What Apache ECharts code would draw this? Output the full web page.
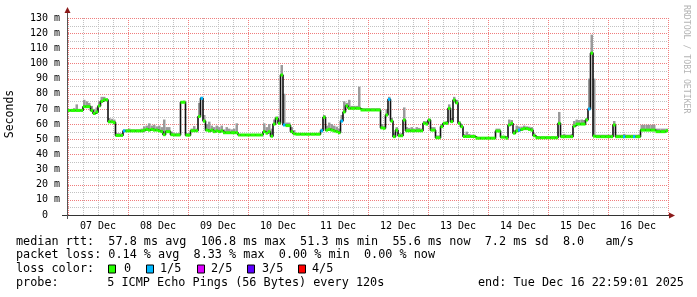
<!DOCTYPE html>
<html><head><meta charset="utf-8">
<script src="https://cdn.jsdelivr.net/npm/echarts@6/dist/echarts.min.js"></script>
<style>html,body{margin:0;padding:0;background:#fff}#c{width:697px;height:297px}</style>
</head><body><div id="c"></div>
<script>
// ---- data (hour index from 07 Dec 00:00, one value per hour) ----
const dayLabels = ['07 Dec','08 Dec','09 Dec','10 Dec','11 Dec','12 Dec','13 Dec','14 Dec','15 Dec','16 Dec'];
const xGridHours = [0,6,12,18,24,30,36,42,48,54,60,66,72,78,84,90,96,102,108,114,120,126,132,138,144,150,156,162,168,174,180,186,192,198,204,210,216,222,228,234,240];
const yGridValues = [0,5,10,15,20,25,30,35,40,45,50,55,60,65,70,75,80,85,90,95,100,105,110,115,120,125,130];
const median = [
 69,69,69,69,69,69, 71.5,71.5,71.5, 69,67,68, 72,75,76,76, 61.5,61.5,61, 52.5,52.5,52.5,
 55.5,55.5,55.5,55.5,55.5,55.5,55.5,55.5, 56,56.5,56,56.5,56,56,55.5,55, 53, 55,55,
 53,52.8,52.8,52.8, 74.4,74.4, 52.7,52.7, 55.6,55.6,55.6, 65,77,62,
 56,55.5,56,55,55.5,55,55.5, 54.3,54.3,54.3,54.3,54.3,54.3,
 52.8,52.8,52.8,52.8,52.8,52.8,52.8,52.8,52.8,52.8, 55,54,55,52, 60,63.8,60.5, 92.4,59.4, 59,59, 55,53.6,
 53.3,53.3,53.3,53.3,53.3,53.3,53.3,53.3,53.3,53.3, 55.6, 64.5, 56,56.5,56,55.5,55, 54.3, 62,68, 72,
 70.4,70.4,70.4,70.4,70.4, 69.3,69.3,69.3,69.3,69.3,69.3,69.3,69.3, 57.5,57.2, 66,76.3, 62, 51.7, 56, 52.3,52.3, 62.7,
 55.6,55.6,55.6,55.6,55.6,55.6,55.6, 60.5,60,62.7, 56,56, 51,51, 58.3, 60.5,60.5, 70.4,61.6,75.9,74,60.5,58.3,
 51.8,51.8,51.8,51.8,51.8, 50.7,50.7,50.7,50.7,50.7,50.7,50.7,50.7, 55.4,55.4, 51.4,51.4,50.7,
 59.4,60.5,54,55.5, 56,56.5,57,57,56.5,56, 52.3, 51,51,51,51,51,51,51,51,51, 60.5,51.7, 51.7,51.7,51.7,51.7,
 58.7, 60,60,60,60, 62.7,70,106.8,52, 51.7,51.7,51.7,51.7,51.7,51.7,51.7, 59.4,
 51.7,51.7,51.7,51.7,51.7,51.7,51.7,51.7,51.7,51.7, 56,56,56,56,56,56, 55,55,55,55,55.6
];
const smokeMax = [
 69.5,70,70.5,73,70,70, 76,75,74, 72,70,71, 75,78,78,77, 64,63.5,63, 54,54,54,
 56.5,56.5,57,56.5,56.5,56.5,56.5,57, 58.5,59,60.5,59,59.5,58.5,59,58, 63, 58,58,
 55,54,54,54, 75,75.5, 54,54, 57,58.7,57, 74,78,66,
 60,61.6,59,58,59,58,59, 56.5,58,57,56.5,57,60.5,
 53.5,53.5,53.5,53.5,53.5,53.5,53.5,53.5,53.5,53.5, 60.5,58,60,57, 63,65,63, 99,80, 61,61, 58,56,
 54,54,54,54,54,54,54,54,54,54, 57, 66, 59,61,60,59,58.3, 57, 66,75, 74,
 76,72,72,72,84.7, 70.5,70.5,70.5,70.5,70.5,70.5,70.5,70.5, 60,59, 70,78, 64, 54, 58, 54,54, 71,
 58,57.5,58,57,58,57.5,57, 62,62,63.5, 58,58, 52.5,52.5, 60, 61.5,62, 73,64,78,76,62,60,
 53.5,55,53.5,53,53, 51.5,51.5,51.5,51.5,51.5,51.5,51.5,51.5, 57,57, 52,52,52,
 63,62.7,56,59, 58.3,58.3,59,58.5,58.3,58, 54, 52,52,52,52,52,52,52,52,52, 68,53, 53.5,53,53,53.5,
 62, 63,62.7,63,62.7, 64,90,119,90, 53,53,53,53,53,53,53, 62,
 53,53,53,53.5,53,53,53,53,53,53, 59.5,59.5,59.5,59.5,59.5,59.5, 57,57,57,57,57
];
const lossHours = [22, 53, 86, 101, 109, 128, 180, 208, 222, 226];
const lossColors = ['#26ff00','#00b8ff','#dd00ff','#5e00ff','#ff0000'];
const lossLabels = ['0','1/5','2/5','3/5','4/5'];
const rttStats = ['57.8','106.8','51.3','55.6','7.2','8.0'];
const lossStats = ['0.14','8.33','0.00','0.00'];
const probeText = '5 ICMP Echo Pings (56 Bytes) every 120s';
const endText = 'end: Tue Dec 16 22:59:01 2025';

const MONO = 'DejaVu Sans Mono';
const FS = 11.8;
const AFS = 10;
const RED = 'rgb(240,125,125)';
const GRAY = '#c2c2c2';
const X_MAX = 240, Y_MAX = 130;

const smokeData = median.map((v, h) => [h, v, smokeMax[h]]);
const lineData = median.map((v, h) => [h, v]).concat([[median.length, median[median.length - 1]]]);
const greenData = median.map((v, h) => [h, v, lossHours.indexOf(h) >= 0 ? 1 : 0]);
const xGridData = xGridHours.map(h => [h, h % 24 === 0 ? 1 : 0]);
const yGridData = yGridValues.map(v => [0, v, v % 10 === 0 ? 1 : 0]);

const chart = echarts.init(document.getElementById('c'), null, {renderer: 'canvas'});

const legendY = [241.7, 255, 269.3, 282.7];
const txt = (x, y, s, extra) => Object.assign({
  type: 'text', x: x, y: y, silent: true,
  style: {text: s, fill: '#000', font: FS + 'px "' + MONO + '"', textVerticalAlign: 'middle', textAlign: 'left'}
}, extra || {});

const line1 = 'median rtt:  ' + rttStats[0] + ' ms avg  ' + rttStats[1] + ' ms max  ' + rttStats[2] +
  ' ms min  ' + rttStats[3] + ' ms now  ' + rttStats[4] + ' ms sd  ' + rttStats[5] + '   am/s';
const line2 = 'packet loss: ' + lossStats[0] + ' % avg  ' + lossStats[1] + ' % max  ' + lossStats[2] +
  ' % min  ' + lossStats[3] + ' % now';

const squareX = [108, 146, 197, 247, 298];
const labelX = [124, 160, 211, 262, 312];
const graphics = [
  txt(16, legendY[0], line1),
  txt(16, legendY[1], line2),
  txt(16, legendY[2], 'loss color:'),
  txt(16, legendY[3], 'probe:'),
  txt(107.3, legendY[3], probeText),
  txt(478, legendY[3], endText),
  // axis lines and arrows
  {type: 'line', silent: true, z: 10, shape: {x1: 62, y1: 215.5, x2: 670, y2: 215.5}, style: {stroke: '#333', lineWidth: 1}},
  {type: 'line', silent: true, z: 10, shape: {x1: 67.5, y1: 219, x2: 67.5, y2: 11}, style: {stroke: '#555', lineWidth: 1}},
  {type: 'polygon', silent: true, z: 10, shape: {points: [[64.5, 13], [70.5, 13], [67.5, 7]]}, style: {fill: '#8b1a1a'}},
  {type: 'polygon', silent: true, z: 10, shape: {points: [[669, 212.5], [669, 218.5], [675, 215.5]]}, style: {fill: '#8b1a1a'}},
  // y title
  txt(10, 114, 'Seconds', {rotation: Math.PI / 2, style: {text: 'Seconds', fill: '#000', font: '11.5px "' + MONO + '"', textAlign: 'center', textVerticalAlign: 'middle'}}),
  // watermark
  txt(686, 5, 'RRDTOOL / TOBI OETIKER', {rotation: -Math.PI / 2, style: {text: 'RRDTOOL / TOBI OETIKER', fill: '#b4b4b4', font: '8.2px "' + MONO + '"', textAlign: 'left', textVerticalAlign: 'middle'}})
];
lossLabels.forEach((l, i) => {
  graphics.push({type: 'rect', silent: true, shape: {x: squareX[i] + 0.5, y: 265, width: 7, height: 8}, style: {fill: lossColors[i], stroke: '#000', lineWidth: 1}});
  graphics.push(txt(labelX[i], legendY[2], l));
});

chart.setOption({
  animation: false,
  backgroundColor: '#fff',
  grid: {left: 68, right: 29, top: 18, bottom: 82, containLabel: false, outerBoundsMode: 'none'},
  xAxis: [
    {
      type: 'value', min: 0, max: X_MAX, interval: 12, position: 'bottom',
      axisLine: {show: false}, axisTick: {show: false}, splitLine: {show: false},
      axisLabel: {
        color: '#000', fontFamily: MONO, fontSize: AFS, margin: 6,
        formatter: v => (v % 24 === 12 ? dayLabels[(v - 12) / 24] : '')
      }
    }
  ],
  yAxis: [
    {
      type: 'value', min: 0, max: Y_MAX, interval: 10, position: 'left',
      axisLine: {show: false}, axisTick: {show: false}, splitLine: {show: false},
      axisLabel: {
        color: '#000', fontFamily: MONO, fontSize: AFS, margin: 8,
        formatter: v => (v === 0 ? '0  ' : v + ' m')
      }
    }
  ],
  series: [
    {
      type: 'custom', name: 'xgrid', data: xGridData, encode: {x: 0}, z: 1, silent: true, clip: false,
      renderItem: function (params, api) {
        const h = api.value(0), major = api.value(1);
        const a = api.coord([h, 0]), b = api.coord([h, Y_MAX]);
        const x = Math.round(a[0]) + 0.5;
        return {type: 'line', shape: {x1: x, y1: Math.round(b[1]), x2: x, y2: Math.round(a[1])},
          style: {stroke: major ? RED : GRAY, lineWidth: 1, lineDash: [1, 1]}};
      }
    },
    {
      type: 'custom', name: 'ygrid', data: yGridData, encode: {y: 1}, z: 1, silent: true, clip: false,
      renderItem: function (params, api) {
        const v = api.value(1), major = api.value(2);
        const a = api.coord([0, v]), b = api.coord([X_MAX, v]);
        const y = Math.round(a[1]) + 0.5;
        return {type: 'line', shape: {x1: Math.round(a[0]), y1: y, x2: Math.round(b[0]), y2: y},
          style: {stroke: major ? RED : GRAY, lineWidth: 1, lineDash: [1, 1]}};
      }
    },
    {
      type: 'custom', name: 'smoke', data: smokeData, encode: {x: 0, y: [1, 2]}, z: 2,
      renderItem: function (params, api) {
        const h = api.value(0), lo = api.value(1), hi = api.value(2);
        const p1 = api.coord([h, hi]), p2 = api.coord([h + 1, lo]);
        return {type: 'rect', shape: {x: p1[0], y: p1[1], width: p2[0] - p1[0], height: p2[1] - p1[1]}, style: {fill: '#9a9a9a'}};
      }
    },
    {
      type: 'line', name: 'median-step', data: lineData, step: 'end', showSymbol: false, symbol: 'none', z: 3,
      lineStyle: {color: '#111', width: 1.6}
    },
    {
      type: 'custom', name: 'median', data: greenData, encode: {x: 0, y: 1}, z: 4,
      renderItem: function (params, api) {
        const h = api.value(0), v = api.value(1), loss = api.value(2);
        const p1 = api.coord([h, v]), p2 = api.coord([h + 1, v]);
        return {type: 'rect', shape: {x: p1[0], y: p1[1] - 1.5, width: p2[0] - p1[0], height: 3}, style: {fill: lossColors[loss]}};
      }
    }
  ],
  graphic: graphics
});
</script>
</body></html>
